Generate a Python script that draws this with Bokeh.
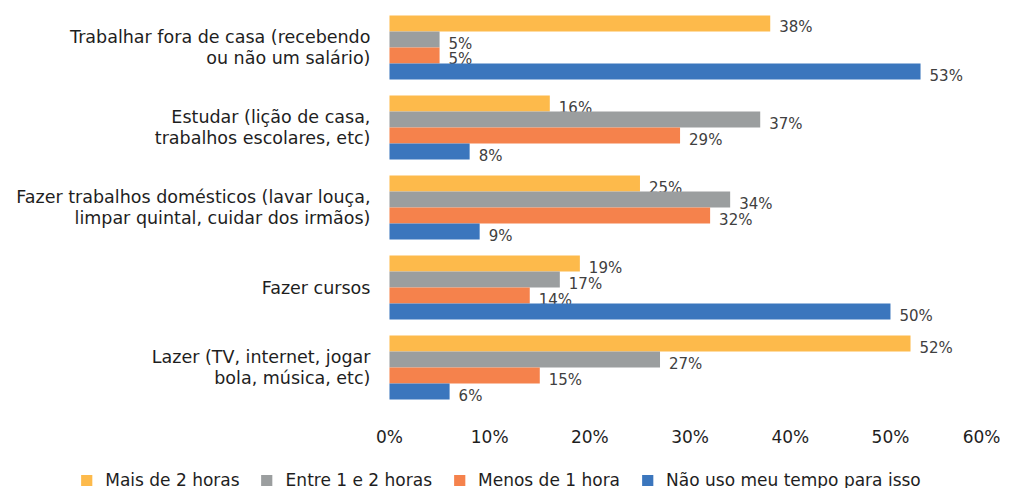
from bokeh.plotting import figure
from bokeh.layouts import column
from bokeh.models import (ColumnDataSource, FactorRange, Range1d, FixedTicker,
                          PrintfTickFormatter, Legend, LegendItem)
from bokeh.transform import dodge
from bokeh.core.properties import value
from bokeh.embed import file_html
from bokeh.resources import INLINE

categories = [
    "Trabalhar fora de casa (recebendo\nou não um salário)",
    "Estudar (lição de casa,\ntrabalhos escolares, etc)",
    "Fazer trabalhos domésticos (lavar louça,\nlimpar quintal, cuidar dos irmãos)",
    "Fazer cursos",
    "Lazer (TV, internet, jogar\nbola, música, etc)",
]
series_names = ["Mais de 2 horas", "Entre 1 e 2 horas", "Menos de 1 hora", "Não uso meu tempo para isso"]
mais_2h = [38, 16, 25, 19, 52]
entre_1_2h = [5, 37, 34, 17, 27]
menos_1h = [5, 29, 32, 14, 15]
nao_uso = [53, 8, 9, 50, 6]
tick_values = [0, 10, 20, 30, 40, 50, 60]

colors = ["#FDBA4B", "#9B9E9F", "#F5824C", "#3B76BD"]
offsets = [0.3, 0.1, -0.1, -0.3]
series_values = [mais_2h, entre_1_2h, menos_1h, nao_uso]

FONT = "DejaVu Sans"

p = figure(
    frame_width=1000, frame_height=400,
    y_range=FactorRange(factors=categories[::-1], range_padding=0),
    x_range=Range1d(-38.82, 60.98),
    output_backend="svg", toolbar_location=None,
    y_axis_location=None,
    min_border_left=0, min_border_right=0, min_border_top=7, min_border_bottom=0,
)

# legend strip (same glyphs, drawn outside its visible range, only the legend shows)
pl = figure(
    width=1000, height=41,
    y_range=FactorRange(factors=categories[::-1]),
    x_range=Range1d(-200, -199),
    output_backend="svg", toolbar_location=None,
    x_axis_location=None, y_axis_location=None,
    min_border_left=0, min_border_right=0, min_border_top=0, min_border_bottom=0,
)

items = []
for name, vals, col, off in zip(series_names, series_values, colors, offsets):
    src = ColumnDataSource(dict(cat=categories, v=vals, lab=[f"{x}%" for x in vals]))
    p.hbar(y=dodge("cat", off, range=p.y_range), right="v", left=0, height=0.2,
           source=src, color=col, line_color=None)
    p.text(x="v", y=dodge("cat", off, range=p.y_range), text="lab", source=src,
           x_offset=9, y_offset=4, text_align="left", text_baseline="middle",
           text_font=value(FONT), text_font_size="15px", text_color="#404040")
    rl = pl.hbar(y=dodge("cat", off, range=pl.y_range), right="v", left=0, height=0.2,
                 source=src, color=col, line_color=None)
    items.append(LegendItem(label=name, renderers=[rl]))

cat_src = ColumnDataSource(dict(cat=categories, x=[-1.9] * len(categories)))
p.text(x="x", y="cat", text="cat", source=cat_src, text_align="right",
       text_baseline="middle", text_font=value(FONT), text_font_size="17.5px",
       text_color="#1e1e1e", text_line_height=1.03)

p.xaxis.ticker = FixedTicker(ticks=tick_values)
p.xaxis.formatter = PrintfTickFormatter(format="%d%%")
p.xaxis.axis_line_color = None
p.xaxis.major_tick_line_color = None
p.xaxis.minor_tick_line_color = None
p.xaxis.major_tick_out = 0
p.xaxis.major_tick_in = 0
p.xaxis.minor_tick_out = 0
p.xaxis.minor_tick_in = 0
p.xaxis.major_label_text_font = FONT
p.xaxis.major_label_text_font_size = "17px"
p.xaxis.major_label_text_color = "#1e1e1e"
p.xaxis.major_label_standoff = 19

for fig in (p, pl):
    fig.xgrid.grid_line_color = None
    fig.ygrid.grid_line_color = None
    fig.outline_line_color = None

leg = Legend(items=items, orientation="horizontal", location="bottom_center")
leg.border_line_color = None
leg.background_fill_alpha = 0
leg.label_text_font = FONT
leg.label_text_font_size = "17px"
leg.label_text_color = "#1e1e1e"
leg.glyph_width = 14
leg.glyph_height = 14
leg.label_standoff = 12
leg.spacing = 20
leg.margin = 0
leg.padding = 0
pl.add_layout(leg, "center")

layout = column(p, pl, spacing=0)
open("out.html", "w").write(file_html(layout, INLINE))
